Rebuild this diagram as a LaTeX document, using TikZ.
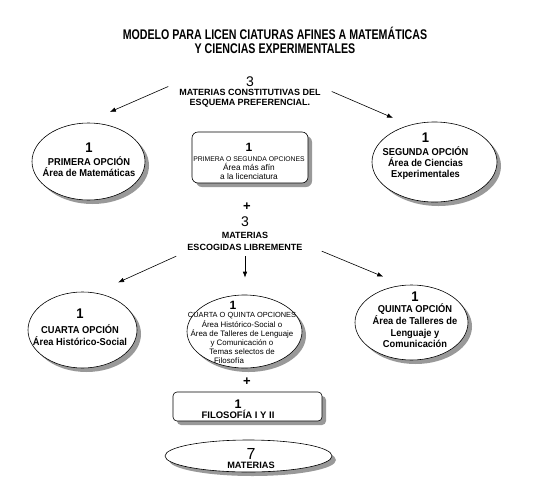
\documentclass[tikz,border=0pt]{standalone}
\usepackage{fontspec}
\setmainfont{Liberation Sans}
\newfontfamily\titlefont[FakeStretch=0.76]{Liberation Sans}
\newfontfamily\optfamily[FakeStretch=0.93]{Liberation Sans}
\usetikzlibrary{arrows.meta,shapes.geometric,shadows}
\definecolor{figshadow}{gray}{0.6}
\newcommand{\numfont}{\mdseries\fontsize{14}{14}\selectfont}
\newcommand{\onefont}{\bfseries\fontsize{14}{14}\selectfont}
\newcommand{\hdrfont}{\bfseries\fontsize{9}{10}\selectfont}
\newcommand{\optfont}{\optfamily\bfseries\fontsize{10}{11}\selectfont}
\newcommand{\finefont}{\fontsize{8.3}{9}\selectfont}
\newcommand{\capsfont}[1]{\fontsize{#1}{9}\selectfont}
\tikzset{
  oval/.style={
    ellipse, draw=black, fill=white, line width=0.6pt, inner sep=0pt,
    drop shadow={shadow xshift=4pt, shadow yshift=-4pt, fill=figshadow, opacity=1}
  },
  card/.style={
    rectangle, rounded corners=6pt, draw=black, fill=white, line width=0.6pt,
    inner sep=0pt,
    drop shadow={shadow xshift=4pt, shadow yshift=-4pt, fill=figshadow, opacity=1}
  },
  txt/.style={align=center, inner sep=0pt},
  head/.style={align=center, inner xsep=11pt, inner ysep=0pt, font=\hdrfont},
  plus/.style={inner sep=0pt, font=\bfseries\fontsize{13}{13}\selectfont},
  arrow/.style={-{Latex[length=6pt,width=4.5pt]}, line width=0.6pt}
}
\begin{document}
\begin{tikzpicture}[x=1pt, y=-1pt]

  \fill[white] (0,0) rectangle (544,488);
  \useasboundingbox (0,0) rectangle (544,488);

  % Title and first group
  \node[txt, font=\titlefont\bfseries\fontsize{14}{14}\selectfont] (title) at (275,40)
    {MODELO PARA LICEN CIATURAS AFINES A MATEMÁTICAS\\Y CIENCIAS EXPERIMENTALES};
  \node[head] (hdr1) at (250,91.5)
    {{\numfont 3}\\[-1pt] MATERIAS CONSTITUTIVAS DEL\\ ESQUEMA PREFERENCIAL.};

  \node[oval, minimum width=113pt, minimum height=77pt] (e1) at (88.5,161.5) {};
  \node[txt, font=\optfont] (e1t) at (89,160)
    {{\onefont 1}\\[2pt] PRIMERA OPCIÓN\\ Área de Matemáticas};

  \node[card, minimum width=116pt, minimum height=51pt] (m1) at (250,157.5) {};
  \node[txt, font=\finefont] (m1t) at (249,161.7)
    {{\bfseries\fontsize{12}{12}\selectfont 1}\\[1pt]
     {\capsfont{6.8}PRIMERA O SEGUNDA OPCIONES}\\ Área más afín\\ a la licenciatura};

  \node[oval, minimum width=125pt, minimum height=80pt] (e3) at (434.5,162) {};
  \node[txt, font=\optfont] (e3t) at (425.5,156.5)
    {{\onefont 1}\\[2pt] SEGUNDA OPCIÓN\\ Área de Ciencias\\ Experimentales};

  % Second group
  \node[plus] (plus1) at (247,206.5) {+};
  \node[head] (hdr2) at (245,234)
    {{\numfont 3}\\[2pt] MATERIAS\\[2pt] ESCOGIDAS LIBREMENTE};

  \node[oval, minimum width=109pt, minimum height=76pt] (e4) at (82.5,330) {};
  \node[txt, font=\optfont] (e4t) at (80,327)
    {{\onefont 1}\\[4pt] CUARTA OPCIÓN\\[1pt] Área Histórico-Social};

  \node[oval, minimum width=115pt, minimum height=73pt] (e5) at (244.5,331.5) {};
  \node[txt, font=\fontsize{7.9}{9}\selectfont] (e5t) at (242,332)
    {{\bfseries\fontsize{12}{12}\selectfont 1\hspace*{18pt}}\\[-1pt]
     {\capsfont{7.4}CUARTA O QUINTA OPCIONES}\\[1pt] Área Histórico-Social o\\
     Área de Talleres de Lenguaje\\ y Comunicación o\\ Temas selectos de\\
     Filosofía\hspace*{26pt}};

  \node[oval, minimum width=113pt, minimum height=75pt] (e6) at (411.5,322.5) {};
  \node[txt, font=\optfont] (e6t) at (415,320)
    {{\onefont 1}\\ QUINTA OPCIÓN\\[1pt] Área de Talleres de\\[0.5pt] Lenguaje y\\[0.5pt] Comunicación};

  % Totals
  \node[plus] (plus2) at (247,382) {+};
  \node[card, rounded corners=4pt, minimum width=149pt, minimum height=29pt] (fil) at (247.5,406.5) {};
  \node[txt, font=\bfseries\fontsize{9.5}{10}\selectfont] (filt) at (238,409)
    {{\fontsize{12.5}{12.5}\selectfont 1}\\[0.5pt] FILOSOFÍA I Y II};

  \node[oval, minimum width=167pt, minimum height=32pt] (tot) at (248.5,456) {};
  \node[txt, font=\bfseries\fontsize{9.2}{10}\selectfont] (tott) at (251,458.7)
    {{\mdseries\fontsize{16}{16}\selectfont 7}\\[-0.5pt] MATERIAS};

  % Arrows
  \draw[arrow, shorten >=27pt] ([yshift=5pt]hdr1.west) -- (e1.95);
  \draw[arrow, shorten >=18pt] (hdr1.east) -- (e3.124);
  \draw[arrow, shorten >=25pt] ([yshift=-5pt]hdr2.south west) -- (e4.71);
  \draw[arrow, shorten >=17pt] ([yshift=-5pt]hdr2.south) -- (hdr2.south |- e5.north);
  \draw[arrow, shorten >=22pt] ([xshift=8pt]hdr2.south east) -- (e6.102);

\end{tikzpicture}
\end{document}
